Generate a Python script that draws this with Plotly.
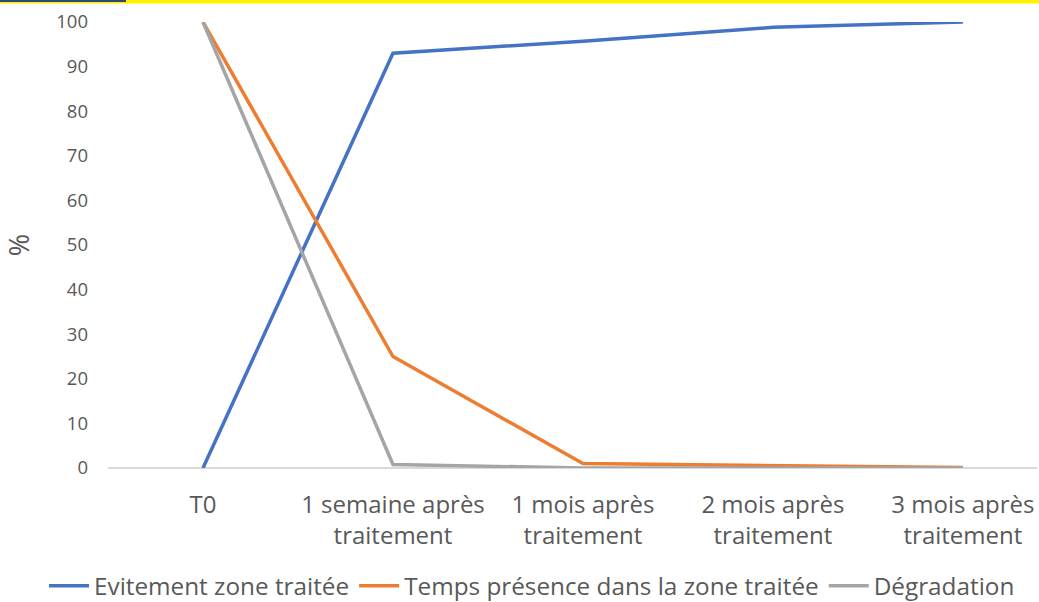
import plotly.graph_objects as go

categories = ["T0", "1 semaine après<br>traitement", "1 mois après<br>traitement",
              "2 mois après<br>traitement", "3 mois après<br>traitement"]
evitement = [0, 93, 95.7, 98.8, 100]
temps_presence = [100, 25, 1, 0.6, 0.1]
degradation = [100, 0.8, 0, 0, 0]
y_ticks = [0, 10, 20, 30, 40, 50, 60, 70, 80, 90, 100]

series = [
    ("Evitement zone traitée", evitement, "#4472C4"),
    ("Temps présence dans la zone traitée", temps_presence, "#ED7D31"),
    ("Dégradation", degradation, "#A5A5A5"),
]

W, H = 1039, 602
L, R, T, B = 108, 2, 22, 134
FONT = "Open Sans"
GREY = "#595959"

fig = go.Figure()
xs = list(range(len(categories)))
for name, vals, col in series:
    fig.add_trace(go.Scatter(x=xs, y=vals, mode="lines", name=name,
                             line=dict(color=col, width=3.5)))

pw, ph = W - L - R, H - T - B
def px_x(p):
    return (p - L) / pw
def px_y(p):
    return 1 - (p - T) / ph

fig.update_layout(
    width=W, height=H,
    margin=dict(l=L, r=R, t=T, b=B, autoexpand=False),
    paper_bgcolor="white", plot_bgcolor="white",
    font=dict(family=FONT, color=GREY, size=18),
    showlegend=True,
    legend=dict(orientation="h", xref="paper", yref="paper",
                x=px_x(44), xanchor="left", y=px_y(586), yanchor="middle",
                font=dict(size=24.3, color=GREY), itemwidth=40, tracegroupgap=0),
    xaxis=dict(range=[-0.5, 4.39], tickvals=xs, ticktext=categories, showgrid=False,
               zeroline=False, showline=False, ticks="", tickfont=dict(size=24, color=GREY),
               ticklabelstandoff=20, fixedrange=True),
    yaxis=dict(range=[0, 100], tickvals=y_ticks, showgrid=False, zeroline=True,
               zerolinecolor="#D9D9D9", zerolinewidth=1.5, showline=False, ticks="",
               tickfont=dict(size=18.5, color=GREY), ticklabelstandoff=19,
               title=dict(text="%", font=dict(size=27, color=GREY), standoff=22),
               fixedrange=True),
    shapes=[
        dict(type="rect", xref="paper", yref="paper", x0=px_x(0), x1=px_x(W),
             y0=px_y(0), y1=px_y(3.5), fillcolor="#FFF200", line=dict(width=0), layer="above"),
        dict(type="rect", xref="paper", yref="paper", x0=px_x(0), x1=px_x(126),
             y0=px_y(0), y1=px_y(2), fillcolor="#2F4A6E", line=dict(width=0), layer="above"),
    ],
)

fig.write_html("out.html", config={"displayModeBar": False},
               post_script="document.body.style.margin='0';document.body.style.padding='0';")
